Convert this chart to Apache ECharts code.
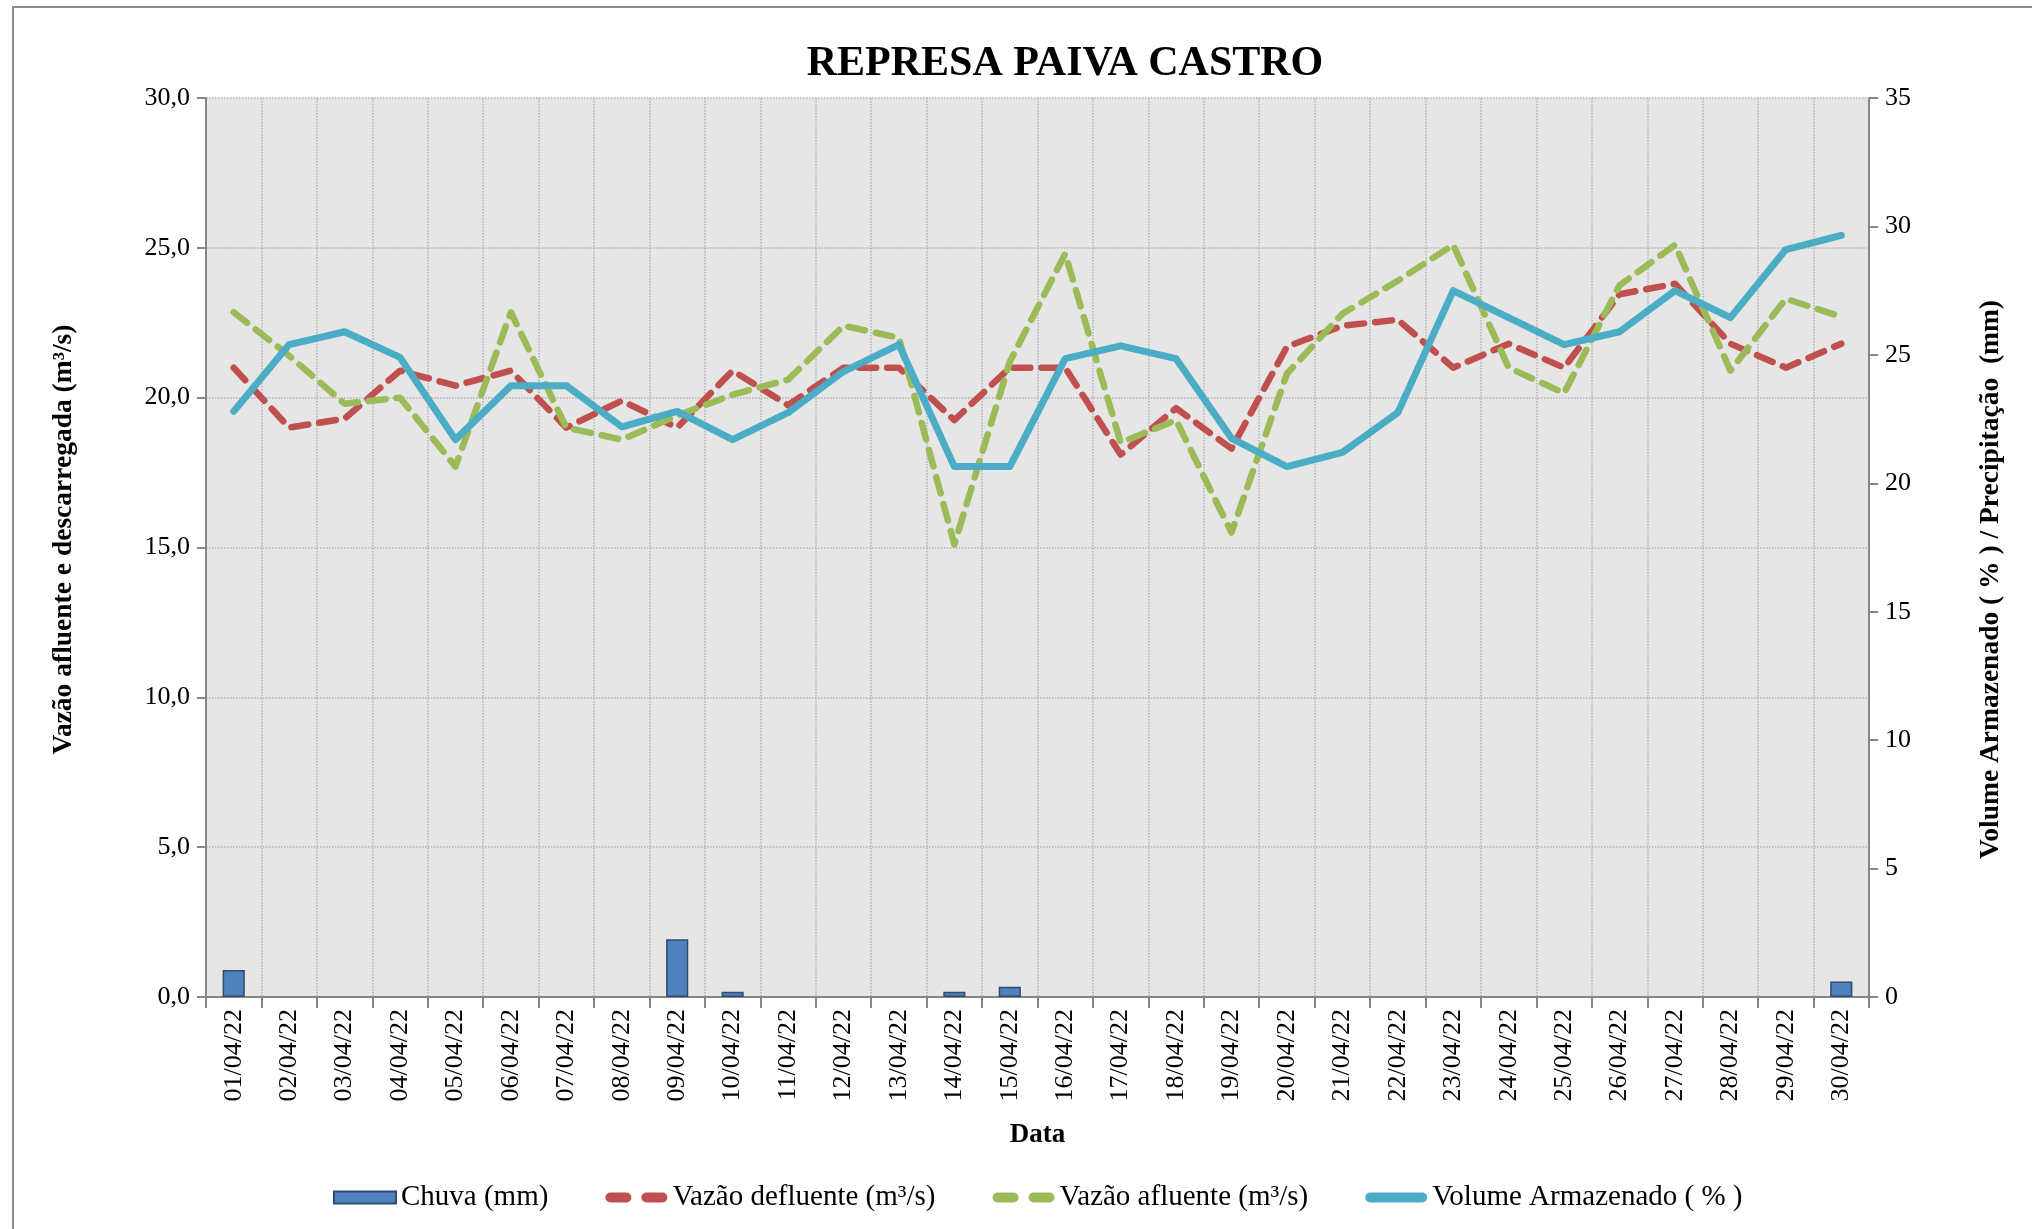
<!DOCTYPE html>
<html>
<head>
<meta charset="utf-8">
<script src="https://cdn.jsdelivr.net/npm/echarts@6/dist/echarts.min.js"></script>
<style>
  html, body { margin: 0; padding: 0; background: #fff; }
  #chart { width: 2032px; height: 1229px; }
</style>
</head>
<body>
<div id="chart"></div>
<script>
// dates of April 2022
var dias = ['01/04/22','02/04/22','03/04/22','04/04/22','05/04/22','06/04/22','07/04/22','08/04/22','09/04/22','10/04/22',
            '11/04/22','12/04/22','13/04/22','14/04/22','15/04/22','16/04/22','17/04/22','18/04/22','19/04/22','20/04/22',
            '21/04/22','22/04/22','23/04/22','24/04/22','25/04/22','26/04/22','27/04/22','28/04/22','29/04/22','30/04/22'];

var chuva = [1.05, 0, 0, 0, 0, 0, 0, 0, 2.25, 0.2,
             0, 0, 0, 0.2, 0.4, 0, 0, 0, 0, 0,
             0, 0, 0, 0, 0, 0, 0, 0, 0, 0.6];

var defluente = [21.0, 19.0, 19.3, 20.9, 20.4, 20.9, 19.0, 19.9, 19.0, 20.9,
                 19.75, 21.0, 21.0, 19.25, 21.0, 21.0, 18.1, 19.65, 18.3, 21.7,
                 22.4, 22.6, 21.0, 21.8, 21.0, 23.45, 23.8, 21.8, 21.0, 21.8];

var afluente = [22.85, 21.4, 19.8, 20.0, 17.7, 22.85, 19.0, 18.6, 19.4, 20.1,
                20.6, 22.4, 22.0, 15.1, 21.2, 24.8, 18.5, 19.25, 15.5, 20.8,
                22.8, 23.9, 25.1, 21.0, 20.15, 23.75, 25.1, 20.9, 23.3, 22.7];

var volume = [22.8, 25.4, 25.9, 24.9, 21.7, 23.8, 23.8, 22.2, 22.8, 21.7,
              22.75, 24.35, 25.4, 20.65, 20.65, 24.85, 25.35, 24.85, 21.75, 20.65,
              21.2, 22.75, 27.5, 26.45, 25.4, 25.9, 27.5, 26.45, 29.1, 29.65];

var leftTicks = { min: 0, max: 30, step: 5 };
var rightTicks = { min: 0, max: 35, step: 5 };

var FONT = '"Liberation Serif", "Times New Roman", serif';
var AXIS_GRAY = '#868686';

// legend glyphs: two rounded dashes, one rounded bar
var DASH_ICON = 'path://M5,0h16a5,5 0 0 1 0,10h-16a5,5 0 0 1 0,-10zM41,0h16a5,5 0 0 1 0,10h-16a5,5 0 0 1 0,-10z';
var SOLID_ICON = 'path://M5,0h52a5,5 0 0 1 0,10h-52a5,5 0 0 1 0,-10z';

// no border on empty days, so nothing is drawn there
var chuvaData = chuva.map(function (v) {
  return v > 0 ? v : { value: v, itemStyle: { borderWidth: 0 } };
});

var chart = echarts.init(document.getElementById('chart'));
var option = {
  backgroundColor: '#ffffff',
  animation: false,
  textStyle: { fontFamily: FONT, color: '#000' },
  graphic: [{
    type: 'rect',
    shape: { x: 13, y: 7, width: 2100, height: 1300 },
    style: { fill: 'none', stroke: '#8c8c8c', lineWidth: 2 },
    silent: true
  }],
  title: {
    text: 'REPRESA PAIVA CASTRO',
    left: 1060,
    textAlign: 'center',
    top: 38,
    textStyle: { fontFamily: FONT, fontSize: 42, fontWeight: 'bold', color: '#000' }
  },
  legend: {
    bottom: 12,
    left: 328,
    itemGap: 57,
    itemWidth: 62,
    itemHeight: 12,
    textStyle: { fontFamily: FONT, fontSize: 29, color: '#000' },
    data: [
      { name: 'Chuva (mm)', icon: 'rect' },
      { name: 'Vazão defluente (m³/s)', icon: DASH_ICON },
      { name: 'Vazão afluente (m³/s)', icon: DASH_ICON },
      { name: 'Volume Armazenado ( % )', icon: SOLID_ICON }
    ]
  },
  grid: {
    left: 206, right: 163, top: 98, bottom: 232,
    show: true, backgroundColor: '#e6e6e6', borderWidth: 0
  },
  xAxis: {
    type: 'category',
    data: dias,
    name: 'Data',
    nameLocation: 'middle',
    nameGap: 125,
    nameTextStyle: { fontFamily: FONT, fontSize: 27, fontWeight: 'bold', color: '#000' },
    axisLine: { lineStyle: { color: AXIS_GRAY, width: 2 } },
    axisTick: { show: true, length: 11, interval: 0, lineStyle: { color: AXIS_GRAY, width: 2 } },
    axisLabel: { rotate: 90, interval: 0, margin: 12, fontFamily: FONT, fontSize: 26, color: '#000' },
    splitLine: { show: true, interval: 0, lineStyle: { type: 'dotted', color: '#b3b3b3', width: 1.5 } }
  },
  yAxis: [{
    type: 'value',
    min: leftTicks.min, max: leftTicks.max, interval: leftTicks.step,
    name: 'Vazão afluente e descarregada (m³/s)',
    nameLocation: 'middle',
    nameGap: 128,
    nameTextStyle: { fontFamily: FONT, fontSize: 27.5, fontWeight: 'bold', color: '#000', padding: [0, 0, 0, 16] },
    axisLine: { show: true, lineStyle: { color: AXIS_GRAY, width: 2 } },
    axisTick: { show: true, length: 9, lineStyle: { color: AXIS_GRAY, width: 2 } },
    axisLabel: {
      margin: 16, fontFamily: FONT, fontSize: 26, color: '#000',
      formatter: function (v) { return v.toFixed(1).replace('.', ','); }
    },
    splitLine: { show: true, lineStyle: { type: 'dotted', color: '#b3b3b3', width: 1.5 } }
  }, {
    type: 'value',
    position: 'right',
    min: rightTicks.min, max: rightTicks.max, interval: rightTicks.step,
    name: 'Volume Armazenado ( % ) / Precipitação  (mm)',
    nameLocation: 'middle',
    nameGap: 108,
    nameRotate: 90,
    nameTextStyle: { fontFamily: FONT, fontSize: 27.5, fontWeight: 'bold', color: '#000', padding: [0, 64, 0, 0] },
    axisLine: { show: true, lineStyle: { color: AXIS_GRAY, width: 2 } },
    axisTick: { show: true, length: 9, lineStyle: { color: AXIS_GRAY, width: 2 } },
    axisLabel: { margin: 16, fontFamily: FONT, fontSize: 26, color: '#000' },
    splitLine: { show: false }
  }],
  series: [{
    name: 'Chuva (mm)',
    type: 'bar',
    yAxisIndex: 1,
    data: chuvaData,
    barWidth: '40%',
    itemStyle: { color: '#4f81bd', borderColor: '#2f4b6e', borderWidth: 1.5 }
  }, {
    name: 'Vazão defluente (m³/s)',
    type: 'line',
    yAxisIndex: 0,
    data: defluente,
    symbol: 'none',
    itemStyle: { color: '#c0504d' },
    lineStyle: { color: '#c0504d', width: 6.5, type: [17, 11], cap: 'round', join: 'round' }
  }, {
    name: 'Vazão afluente (m³/s)',
    type: 'line',
    yAxisIndex: 0,
    data: afluente,
    symbol: 'none',
    itemStyle: { color: '#9bbb59' },
    lineStyle: { color: '#9bbb59', width: 6.5, type: [17, 11], cap: 'round', join: 'round' }
  }, {
    name: 'Volume Armazenado ( % )',
    type: 'line',
    yAxisIndex: 1,
    data: volume,
    symbol: 'none',
    itemStyle: { color: '#4bacc6' },
    lineStyle: { color: '#4bacc6', width: 7, cap: 'round', join: 'round' }
  }]
};
chart.setOption(option);
</script>
</body>
</html>
